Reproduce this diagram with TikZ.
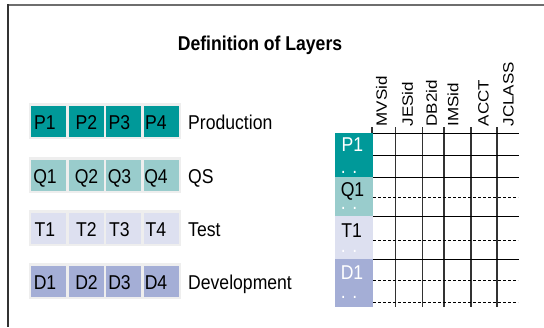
\documentclass[tikz,border=0pt]{standalone}
\usepackage{fontspec}
\setmainfont{Liberation Sans}
\usepackage{graphicx}
\definecolor{prodc}{RGB}{0,153,153}
\definecolor{qsc}{RGB}{153,204,204}
\definecolor{testc}{RGB}{221,224,240}
\definecolor{devc}{RGB}{164,174,214}
\definecolor{grpc}{RGB}{238,238,238}
\definecolor{framec}{RGB}{110,110,110}
\definecolor{gridc}{RGB}{50,50,50}
\newcommand{\nx}[1]{\scalebox{0.88}[1]{#1}}
\newcommand{\ny}[1]{\scalebox{1}[0.88]{#1}}
\begin{document}
\begin{tikzpicture}[x=1pt,y=-1pt,
  grp/.style={fill=grpc, minimum width=152pt, minimum height=36pt, inner sep=0pt},
  cell/.style={minimum width=35pt, minimum height=31pt, inner sep=0pt},
  txt/.style={font=\fontsize{20}{24}\selectfont, inner sep=0pt, anchor=base},
  lbl/.style={font=\fontsize{20}{24}\selectfont, inner sep=0pt, anchor=base west},
  colh/.style={font=\fontsize{17}{20}\selectfont, inner sep=0pt, rotate=90, anchor=west},
  blk/.style={minimum width=38pt, inner sep=0pt},
  hsolid/.style={black, line width=1pt},
  hdash/.style={black, line width=1pt, dash pattern=on 3pt off 2pt},
  vline/.style={gridc, line width=1.1pt}
]
\useasboundingbox (0,0) rectangle (544,327);
% frame
\draw[framec, line width=2pt] (7.5,5) -- (544,5);
\draw[black!80, line width=1.3pt] (8,4) -- (8,327);
% title
\node[inner sep=0pt, anchor=base, font=\fontsize{20}{24}\selectfont\bfseries] (title) at (260,50) {\nx{Definition of Layers}};

% ---- left groups ----
\foreach \r/\yc/\col/\L/\name in {p/121/prodc/P/Production, q/175/qsc/Q/QS, t/228/testc/T/Test, d/281/devc/D/Development}{
  \node[grp] (g\r) at (105,\yc) {};
  \node[cell, fill=\col] (\r1) at (48.5,\yc) {};
  \node[cell, fill=\col] (\r2) at (86,\yc) {};
  \node[cell, fill=\col] (\r3) at (123.5,\yc) {};
  \node[cell, fill=\col] (\r4) at (161,\yc) {};
  \node[txt] (\r1t) at (45,\yc+8.3) {\nx{\L1}};
  \node[txt] (\r2t) at (86.5,\yc+8.3) {\nx{\L2}};
  \node[txt] (\r3t) at (119.5,\yc+8.3) {\nx{\L3}};
  \node[txt] (\r4t) at (156,\yc+8.3) {\nx{\L4}};
  \node[lbl] (\r lab) at (188,\yc+8.3) {\nx{\name}};
}

% ---- matrix ----
\foreach \x in {372,395.5,422.5,444,471,497}{
  \draw[vline] (\x,127) -- (\x,307);
}
\foreach \y in {133,155,177,216,259}{
  \draw[hsolid] (373,\y) -- (519,\y);
}
\foreach \y in {197,240,280,302}{
  \draw[hdash] (373,\y) -- (518,\y);
}
% column headers
\node[colh] (hmvs) at (381.5,126.5) {\ny{MVSid}};
\node[colh] (hjes) at (407.5,126.5) {\ny{JESid}};
\node[colh] (hdb2) at (431.5,126.5) {\ny{DB2id}};
\node[colh] (hims) at (453,126.5) {\ny{IMSid}};
\node[colh] (hacct) at (483.5,126.5) {\ny{ACCT}};
\node[colh] (hjcl) at (508.5,126.5) {\ny{JCLASS}};
% row blocks
\node[blk, fill=prodc, minimum height=44pt] (bp) at (354,155) {};
\node[blk, fill=qsc, minimum height=39pt] (bq) at (354,196.5) {};
\node[blk, fill=testc, minimum height=43pt] (bt) at (354,237.5) {};
\node[blk, fill=devc, minimum height=48pt] (bd) at (354,283) {};
\node[txt, white] (bpt) at (352.5,151) {\nx{P1}};
\node[txt, black] (bqt) at (352.5,196.5) {\nx{Q1}};
\node[txt, black] (btt) at (351.7,237.3) {\nx{T1}};
\node[txt, white] (bdt) at (352,279) {\nx{D1}};
\node[txt, white] (bpd) at (349,173) {\nx{. .}};
\node[txt, white] (bqd) at (349,209.6) {\nx{. .}};
\node[txt, white] (btd) at (349,252.3) {\nx{. .}};
\node[txt, white] (bdd) at (349,298) {\nx{. .}};
\end{tikzpicture}
\end{document}
